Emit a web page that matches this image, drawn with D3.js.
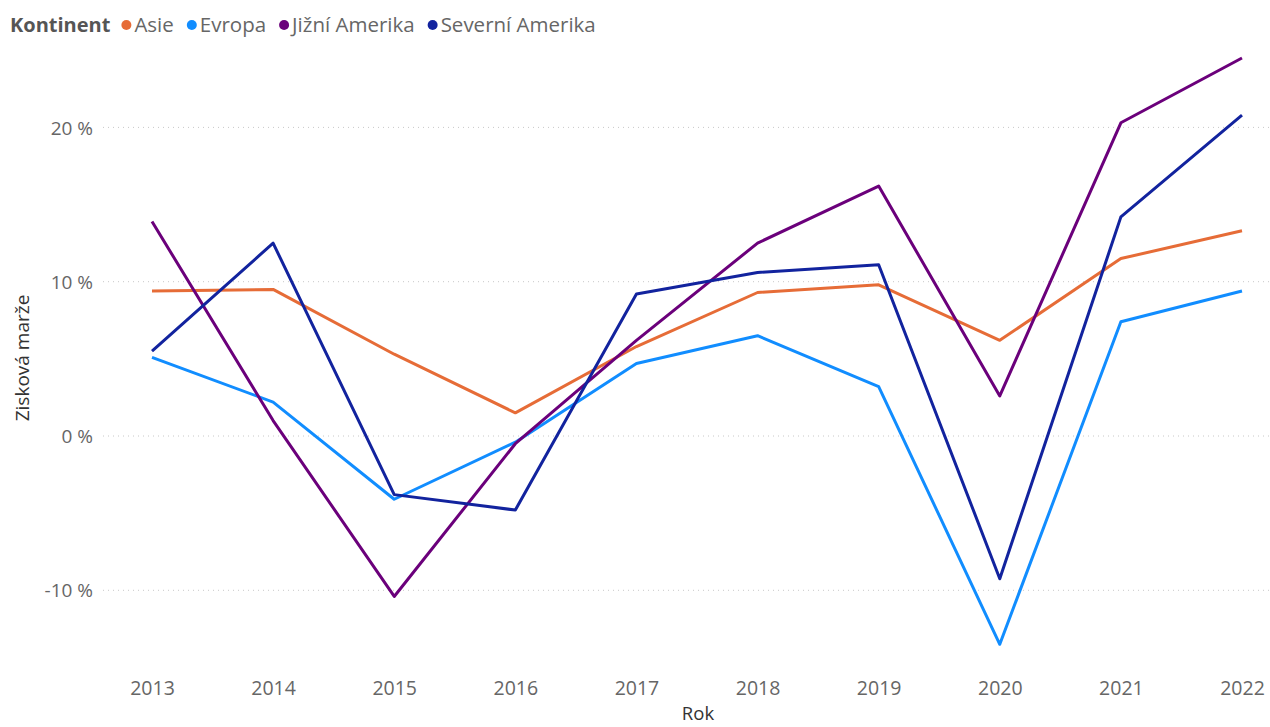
<!DOCTYPE html>
<html><head><meta charset="utf-8">
<script src="https://cdn.jsdelivr.net/npm/d3@7"></script>
<style>
body{margin:0;background:#fff;}
svg text{font-family:"Open Sans","Noto Sans",sans-serif;}
</style></head><body>
<svg id="chart" width="1270" height="727"></svg>
<script>
const years = ["2013","2014","2015","2016","2017","2018","2019","2020","2021","2022"];
const seriesNames = ["Asie","Evropa","Jižní Amerika","Severní Amerika"];
const seriesColors = ["#E66C37","#118DFF","#6B007B","#12239E"];
const asie = [9.4, 9.5, 5.3, 1.5, 5.8, 9.3, 9.8, 6.2, 11.5, 13.3];
const evropa = [5.1, 2.2, -4.1, -0.4, 4.7, 6.5, 3.2, -13.5, 7.4, 9.4];
const jizniAmerika = [13.9, 1.0, -10.4, -0.5, 6.2, 12.5, 16.2, 2.6, 20.3, 24.5];
const severniAmerika = [5.5, 12.5, -3.8, -4.8, 9.2, 10.6, 11.1, -9.25, 14.2, 20.8];
const yTicks = [-10, 0, 10, 20];
const legendTitle = "Kontinent";
const xTitle = "Rok";
const yTitle = "Zisková marže";

const seriesValues = [asie, evropa, jizniAmerika, severniAmerika];
const svg = d3.select("#chart");

const x = d3.scalePoint().domain(years).range([152, 1242]);
const y = d3.scaleLinear().domain([0, 10]).range([436, 281.7]);

// grid
const gridG = svg.append("g");
gridG.selectAll("line").data(yTicks).join("line")
  .attr("x1", 103).attr("x2", 1270)
  .attr("y1", d => y(d)).attr("y2", d => y(d))
  .attr("stroke", "#c8c8c8").attr("stroke-width", 1)
  .attr("stroke-dasharray", "1,4");

// y axis labels
const yAxis = d3.axisLeft(y).tickValues(yTicks).tickSize(0).tickPadding(0)
  .tickFormat(d => d + " %");
const yg = svg.append("g").attr("transform", "translate(93,0)").call(yAxis);
yg.select(".domain").remove();
yg.selectAll("text").attr("fill", "#666").attr("font-size", 19).attr("dy", "0.35em");

// x axis labels
const xAxis = d3.axisBottom(x).tickSize(0).tickPadding(0);
const xg = svg.append("g").attr("transform", "translate(0,688)").call(xAxis);
xg.select(".domain").remove();
xg.selectAll("text").attr("fill", "#666").attr("font-size", 19.5).attr("dy", "0.35em");

// titles
svg.append("text").attr("x", 698).attr("y", 720).attr("text-anchor", "middle")
  .attr("font-size", 18.5).attr("fill", "#333").text(xTitle);
svg.append("text").attr("transform", "translate(22,358) rotate(-90)")
  .attr("text-anchor", "middle").attr("dy", "0.35em").attr("font-size", 19)
  .attr("fill", "#333").text(yTitle);

// lines
const line = d3.line().x((d, i) => x(years[i])).y(d => y(d));
svg.append("g").selectAll("path").data(seriesValues).join("path")
  .attr("d", d => line(d)).attr("fill", "none")
  .attr("stroke", (d, i) => seriesColors[i]).attr("stroke-width", 3)
  .attr("stroke-linejoin", "round");

// legend
const leg = svg.append("g").attr("transform", "translate(10,25)");
const lt = leg.append("text").attr("x", 0).attr("y", 0).attr("dy", "0.35em")
  .attr("font-size", 20).attr("font-weight", "bold").attr("fill", "#555").text(legendTitle);
let lx = lt.node().getComputedTextLength() + 11;
seriesNames.forEach((name, i) => {
  leg.append("circle").attr("cx", lx + 5).attr("cy", 0).attr("r", 5).attr("fill", seriesColors[i]);
  const t = leg.append("text").attr("x", lx + 13).attr("y", 0).attr("dy", "0.35em")
    .attr("font-size", 20.5).attr("fill", "#666").text(name);
  lx += 13 + t.node().getComputedTextLength() + 13;
});
</script>
</body></html>
